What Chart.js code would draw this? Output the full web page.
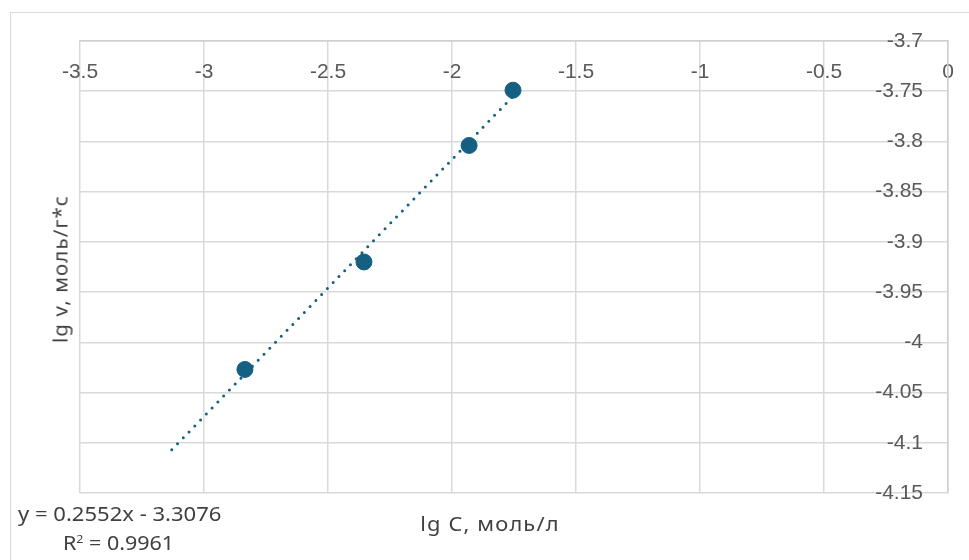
<!DOCTYPE html>
<html lang="ru">
<head>
  <meta charset="UTF-8">
  <title>lg v vs lg C</title>
  <style>
    body, html {
      margin: 0;
      width: 969px;
      height: 560px;
      background: #ffffff;
      overflow: hidden;
    }
    #wrap {
      position: relative;
      width: 969px;
      height: 560px;
    }
    #frame {
      position: absolute;
      left: 10px;
      top: 12px;
      width: 980px;
      height: 560px;
      border: 1px solid #d9d9d9;
      box-sizing: border-box;
    }
    canvas { position: absolute; left: 0; top: 0; }
    .txt {
      position: absolute;
      font-family: "Noto Sans", sans-serif;
      font-size: 19px;
      line-height: 19px;
      color: #404040;
      white-space: nowrap;
    }
    .eq { transform-origin: left center; transform: scaleX(1.16); }
    #xtitle { letter-spacing: 1px; transform: translateX(-50%) scaleX(1.15); }
    #ytitle { letter-spacing: 1px; transform: translate(-50%, -50%) rotate(-90deg) scaleX(1.08); }
    sup { font-size: 11px; line-height: 0; }
  </style>
</head>
<body>
  <div id="wrap">
    <div id="frame"></div>
    <canvas id="chart" width="969" height="560"></canvas>
    <div class="txt" id="xtitle" style="left:490px; top:515px;">lg C, моль/л</div>
    <div class="txt" id="ytitle" style="left:61px; top:269px;">lg v, моль/г*с</div>
    <div class="txt eq" style="left:18px; top:505px;">y = 0.2552x - 3.3076</div>
    <div class="txt eq" style="left:63px; top:534px; transform: scaleX(1.13);">R<sup>2</sup> = 0.9961</div>
  </div>

  <script src="https://cdn.jsdelivr.net/npm/chart.js"></script>
  <script>
    // measured points (lg C, lg v)
    const lgC = [-2.835, -2.355, -1.931, -1.754];
    const lgV = [-4.027, -3.920, -3.804, -3.749];

    // linear trendline ends as drawn
    const trendX = [-3.13, -1.754];
    const trendY = [-4.107, -3.755];

    const xTicks = [-3.5, -3, -2.5, -2, -1.5, -1, -0.5, 0];
    const yTicks = [-3.7, -3.75, -3.8, -3.85, -3.9, -3.95, -4, -4.05, -4.1, -4.15];

    const blue = '#156082';
    const gridColor = '#d9d9d9';
    const tickFont = { family: '"Liberation Sans", Arial', size: 21 };

    const ctx = document.getElementById('chart').getContext('2d');
    new Chart(ctx, {
      type: 'scatter',
      data: {
        datasets: [
          {
            label: 'trend',
            data: trendX.map((x, i) => ({ x: x, y: trendY[i] })),
            showLine: true,
            borderColor: blue,
            borderWidth: 3,
            borderDash: [0, 8.3],
            borderCapStyle: 'round',
            pointRadius: 0,
            fill: false
          },
          {
            label: 'data',
            data: lgC.map((x, i) => ({ x: x, y: lgV[i] })),
            backgroundColor: blue,
            borderColor: blue,
            pointRadius: 8,
            pointHoverRadius: 8
          }
        ]
      },
      options: {
        responsive: false,
        animation: false,
        layout: { padding: { left: 80, top: 41, right: 21, bottom: 67 } },
        plugins: {
          legend: { display: false },
          tooltip: { enabled: false }
        },
        scales: {
          x: {
            type: 'linear',
            position: 'top',
            min: -3.5,
            max: 0,
            afterBuildTicks: s => { s.ticks = xTicks.map(v => ({ value: v })); },
            afterFit: s => { s.height = 0; s.paddingLeft = 0; s.paddingRight = 0; },
            grid: { color: gridColor, lineWidth: 1.5, drawTicks: false },
            border: { color: '#cfcfcf', width: 1.5 },
            ticks: {
              mirror: true,
              padding: 19,
              maxRotation: 0,
              autoSkip: false,
              color: '#595959',
              font: tickFont,
              callback: v => String(v)
            }
          },
          y: {
            type: 'linear',
            position: 'right',
            min: -4.15,
            max: -3.7,
            afterBuildTicks: s => { s.ticks = yTicks.map(v => ({ value: v })); },
            afterFit: s => { s.width = 0; s.paddingTop = 0; s.paddingBottom = 0; },
            grid: { color: gridColor, lineWidth: 1.5, drawTicks: false },
            border: { color: '#cfcfcf', width: 1.5 },
            ticks: {
              mirror: true,
              padding: -25,
              autoSkip: false,
              color: '#595959',
              font: tickFont,
              callback: v => String(v)
            }
          }
        }
      }
    });
  </script>
</body>
</html>
